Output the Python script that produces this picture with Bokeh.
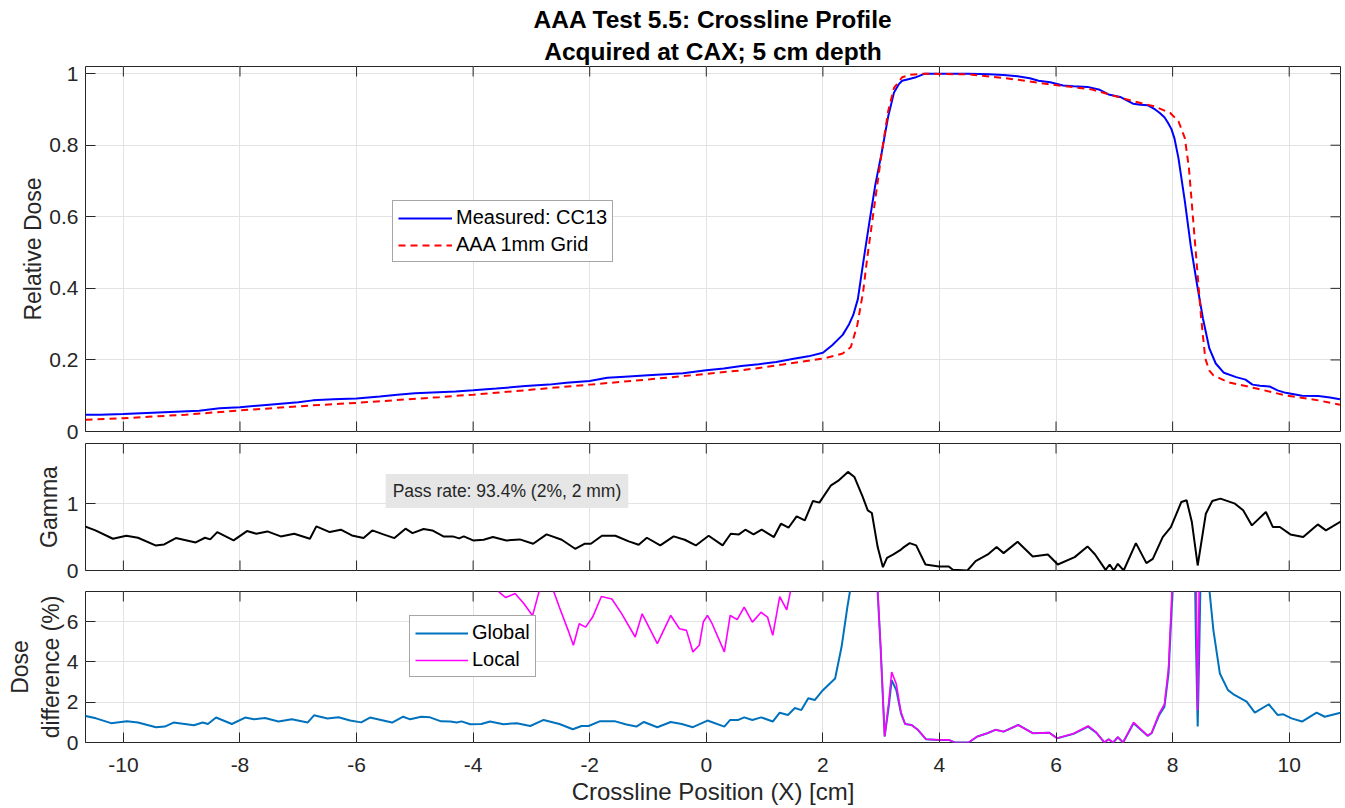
import math
from bokeh.plotting import figure
from bokeh.models import Range1d, FixedTicker, Legend, LegendItem, Label, Title, Grid
from bokeh.layouts import column
from bokeh.embed import file_html
from bokeh.resources import INLINE

# ---------------- data ----------------
meas_x = [-10.65, -10.4, -10.0, -9.6, -9.3, -9.0, -8.7, -8.35, -8.0, -7.5, -7.0, -6.75, -6.4, -6.0,
          -5.6, -5.3, -5.0, -4.6, -4.3, -4.0, -3.6, -3.1, -2.7, -2.4, -2.0, -1.7, -1.4, -1.0, -0.7,
          -0.4, 0.0, 0.3, 0.6, 0.9, 1.2, 1.5, 1.75, 2.0, 2.16, 2.34, 2.45, 2.52, 2.6, 2.69, 2.8, 2.9,
          3.01, 3.12, 3.22, 3.3, 3.36, 3.5, 3.58, 3.75, 4.0, 4.5, 4.85, 5.1, 5.34, 5.55, 5.7, 5.9,
          6.12, 6.3, 6.54, 6.75, 6.9, 7.1, 7.32, 7.45, 7.57, 7.7, 7.78, 7.86, 7.92, 7.98, 8.03, 8.1,
          8.21, 8.31, 8.42, 8.52, 8.63, 8.74, 8.88, 9.09, 9.25, 9.37, 9.5, 9.66, 9.8, 9.94, 10.22,
          10.5, 10.7, 10.87]
meas_y = [0.047, 0.047, 0.049, 0.052, 0.054, 0.056, 0.058, 0.065, 0.068, 0.075, 0.082, 0.087, 0.09,
          0.092, 0.098, 0.103, 0.107, 0.11, 0.112, 0.115, 0.12, 0.127, 0.131, 0.136, 0.141, 0.15,
          0.153, 0.157, 0.16, 0.163, 0.171, 0.176, 0.183, 0.188, 0.194, 0.203, 0.21, 0.22, 0.241,
          0.27, 0.3, 0.325, 0.37, 0.47, 0.587, 0.69, 0.78, 0.88, 0.947, 0.97, 0.98, 0.986, 0.989,
          1.0, 1.0, 1.0, 0.998, 0.996, 0.993, 0.987, 0.98, 0.976, 0.967, 0.965, 0.963, 0.955, 0.942,
          0.935, 0.916, 0.913, 0.912, 0.9, 0.89, 0.878, 0.863, 0.845, 0.82, 0.764, 0.643, 0.52,
          0.41, 0.316, 0.232, 0.19, 0.164, 0.152, 0.145, 0.131, 0.128, 0.126, 0.115, 0.108, 0.1,
          0.099, 0.095, 0.09]

calc_x = [-10.65, -10.0, -8.93, -8.0, -6.75, -6.0, -4.58, -4.0, -3.13, -2.0, -0.96, 0.0, 0.61, 1.31,
          2.02, 2.34, 2.48, 2.59, 2.69, 2.76, 2.87, 3.01, 3.12, 3.22, 3.36, 3.5, 3.72, 4.49, 5.2, 5.9,
          6.61, 7.32, 7.68, 7.96, 8.1, 8.21, 8.28, 8.35, 8.42, 8.49, 8.56, 8.63, 8.7, 8.95, 9.44,
          9.94, 10.5, 10.87]
calc_y = [0.033, 0.037, 0.047, 0.059, 0.073, 0.08, 0.096, 0.103, 0.115, 0.131, 0.146, 0.161, 0.171,
          0.187, 0.204, 0.218, 0.236, 0.297, 0.39, 0.484, 0.615, 0.78, 0.895, 0.96, 0.99, 0.997, 1.0,
          0.998, 0.986, 0.97, 0.956, 0.923, 0.909, 0.89, 0.867, 0.82, 0.736, 0.596, 0.456, 0.316,
          0.204, 0.17, 0.157, 0.138, 0.12, 0.101, 0.087, 0.075]

gamma_x = [-10.66, -10.48, -10.18, -9.95, -9.75, -9.45, -9.3, -9.1, -8.76, -8.6, -8.51, -8.39, -8.11,
           -7.88, -7.72, -7.53, -7.3, -7.07, -6.8, -6.69, -6.46, -6.27, -6.08, -5.88, -5.73, -5.54,
           -5.35, -5.16, -5.04, -4.85, -4.7, -4.51, -4.35, -4.24, -4.16, -4.0, -3.82, -3.66, -3.43,
           -3.2, -2.97, -2.74, -2.48, -2.25, -2.09, -1.98, -1.79, -1.56, -1.33, -1.16, -1.02, -0.79,
           -0.56, -0.37, -0.18,
           0.04, 0.28, 0.42, 0.56, 0.67, 0.81, 0.95, 1.16, 1.28, 1.41, 1.55, 1.69, 1.83, 1.94, 2.14,
           2.26, 2.43, 2.54, 2.68, 2.77, 2.84, 2.94, 3.03, 3.1, 3.21, 3.32, 3.39, 3.49, 3.6, 3.76,
           3.99, 4.16, 4.23, 4.48, 4.62, 4.83, 4.98, 5.1, 5.34, 5.6, 5.86, 6.03, 6.32, 6.54, 6.67,
           6.85, 6.92, 6.99, 7.06, 7.16, 7.37, 7.55, 7.66, 7.83, 7.97, 8.15, 8.24, 8.33, 8.43, 8.57,
           8.68, 8.82, 9.07, 9.21, 9.36, 9.6, 9.72, 9.84, 10.02, 10.24, 10.49, 10.63, 10.9]
gamma_y = [0.66, 0.6, 0.475, 0.52, 0.49, 0.375, 0.39, 0.485, 0.42, 0.49, 0.465, 0.575, 0.45, 0.59,
           0.55, 0.585, 0.51, 0.55, 0.475, 0.66, 0.575, 0.61, 0.525, 0.485, 0.6, 0.54, 0.485, 0.625,
           0.56, 0.62, 0.6, 0.51, 0.51, 0.48, 0.51, 0.45, 0.46, 0.5, 0.45, 0.465, 0.4, 0.54, 0.46,
           0.325, 0.4, 0.4, 0.52, 0.52, 0.435, 0.385, 0.49, 0.375, 0.51, 0.46, 0.375,
           0.52, 0.375, 0.55, 0.54, 0.61, 0.54, 0.61, 0.5, 0.7, 0.64, 0.81, 0.75, 1.04, 1.015, 1.275,
           1.34, 1.475, 1.4, 1.11, 0.9, 0.86, 0.35, 0.05, 0.19, 0.24, 0.3, 0.35, 0.41, 0.375, 0.09,
           0.06, 0.06, 0.01, 0.0, 0.14, 0.24, 0.35, 0.26, 0.43, 0.21, 0.24, 0.09, 0.2, 0.36, 0.24,
           0.01, 0.09, 0.0, 0.1, 0.0, 0.41, 0.11, 0.175, 0.5, 0.65, 1.025, 1.05, 0.725, 0.075, 0.85,
           1.04, 1.075, 1.0, 0.9, 0.675, 0.875, 0.65, 0.65, 0.54, 0.5, 0.69, 0.6, 0.74]

global_x = [-10.67, -10.47, -10.21, -9.94, -9.75, -9.44, -9.29, -9.14, -8.79, -8.64, -8.55, -8.41,
            -8.14, -7.91, -7.76, -7.57, -7.34, -7.11, -6.84, -6.73, -6.5, -6.31, -6.11, -5.92, -5.77,
            -5.58, -5.39, -5.2, -5.08, -4.89, -4.74, -4.55, -4.39, -4.28, -4.2, -4.05, -3.86, -3.71,
            -3.48, -3.25, -3.02, -2.79, -2.52, -2.29, -2.14, -2.02, -1.83, -1.56, -1.37, -1.2, -1.07,
            -0.84, -0.61, -0.42, -0.23,
            0.02, 0.31, 0.41, 0.55, 0.65, 0.79, 0.94, 1.14, 1.26, 1.4, 1.52, 1.63, 1.75, 1.86, 2.0,
            2.21, 2.32, 2.42, 2.47, 2.55, 2.7, 2.85, 2.94, 2.99, 3.06, 3.13, 3.18, 3.26, 3.34, 3.41,
            3.52, 3.63, 3.77, 3.98, 4.16, 4.26, 4.5, 4.65, 4.82, 4.96, 5.1, 5.35, 5.6, 5.88, 6.02,
            6.3, 6.55, 6.69, 6.83, 6.9, 6.98, 7.06, 7.15, 7.33, 7.57, 7.64, 7.77, 7.86, 7.93, 8.0,
            8.05, 8.2, 8.35, 8.4, 8.43, 8.46, 8.52, 8.6, 8.63, 8.7, 8.81, 8.95, 9.06, 9.27, 9.41,
            9.65, 9.8, 9.9, 10.04, 10.22, 10.47, 10.61, 10.88]
global_y = [1.33, 1.2, 0.96, 1.05, 0.99, 0.76, 0.79, 0.99, 0.86, 0.99, 0.92, 1.24, 0.92, 1.24, 1.15,
            1.22, 1.04, 1.15, 0.99, 1.35, 1.19, 1.25, 1.09, 1.0, 1.24, 1.12, 0.99, 1.28, 1.15, 1.28,
            1.25, 1.05, 1.04, 0.99, 1.05, 0.91, 0.92, 1.04, 0.91, 0.96, 0.82, 1.12, 0.92, 0.66, 0.82,
            0.82, 1.05, 1.05, 0.89, 0.79, 1.02, 0.76, 1.02, 0.92, 0.76,
            1.09, 0.79, 1.12, 1.12, 1.25, 1.12, 1.25, 1.04, 1.48, 1.37, 1.71, 1.61, 2.2, 2.11, 2.6,
            3.18, 4.74, 6.72, 7.6, 10, 15, 10, 7.46, 4.74, 0.3, 1.78, 3.1, 2.6, 1.45, 0.92, 0.87,
            0.63, 0.16, 0.13, 0.13, 0.0, 0.0, 0.3, 0.46, 0.63, 0.54, 0.87, 0.46, 0.49, 0.21, 0.43,
            0.79, 0.49, 0.0, 0.16, 0.0, 0.26, 0.0, 0.96, 0.33, 0.46, 1.37, 1.78, 3.43, 7.6, 12, 18,
            15, 5, 0.79, 5, 15, 10, 7.6, 5.57, 3.43, 2.6, 2.36, 2.03, 1.48, 1.9, 1.37, 1.4, 1.2, 1.04,
            1.48, 1.28, 1.48]

local_x = [-10.65, -8.0, -6.0, -4.0, -3.7, -3.55, -3.44, -3.28, -3.13, -2.98, -2.86, -2.75, -2.63,
           -2.52, -2.37, -2.28, -2.18, -2.07, -1.95, -1.8, -1.62, -1.45, -1.22, -1.1, -0.84, -0.61,
           -0.46, -0.34, -0.23, -0.12, -0.05, 0.02, 0.1, 0.31, 0.41, 0.53, 0.65, 0.79, 0.94, 1.05,
           1.14, 1.26, 1.38, 1.45, 1.6, 2.0, 2.5, 2.85, 2.94, 2.99, 3.06, 3.13, 3.18, 3.26, 3.34, 3.41,
           3.52, 3.63, 3.77, 3.98, 4.16, 4.26, 4.5, 4.65, 4.82, 4.96, 5.1, 5.35, 5.6, 5.88, 6.02, 6.3,
           6.55, 6.69, 6.83, 6.9, 6.98, 7.06, 7.15, 7.33, 7.57, 7.64, 7.77, 7.86, 7.93, 7.99, 8.1,
           8.3, 8.4, 8.43, 8.46, 8.55, 9.0, 10.0, 10.88]
local_y = [28, 17, 13, 9, 8.0, 7.46, 7.2, 7.4, 6.9, 6.3, 7.6, 8.2, 7.6, 6.72, 5.57, 4.83, 5.9, 5.73,
           6.23, 7.25, 7.13, 6.39, 5.24, 6.39, 4.91, 6.31, 5.65, 5.57, 4.5, 4.83, 6.0, 6.31, 5.9, 4.5,
           6.31, 6.1, 6.72, 5.98, 6.47, 6.23, 5.32, 7.25, 6.59, 7.6, 9, 12, 25, 20, 7.6, 4.8, 0.3,
           2.0, 3.5, 2.9, 1.5, 0.92, 0.87, 0.63, 0.16, 0.13, 0.13, 0.0, 0.0, 0.3, 0.46, 0.63, 0.54,
           0.87, 0.46, 0.49, 0.21, 0.45, 0.82, 0.5, 0.0, 0.16, 0.0, 0.27, 0.0, 1.0, 0.34, 0.48, 1.45,
           1.9, 3.7, 7.6, 15, 20, 9, 1.6, 9, 25, 20, 15, 14]

x_ticks = [-10, -8, -6, -4, -2, 0, 2, 4, 6, 8, 10]
x_tick_labels = ["-10", "-8", "-6", "-4", "-2", "0", "2", "4", "6", "8", "10"]
dose_ticks = [0, 0.2, 0.4, 0.6, 0.8, 1]
dose_tick_labels = ["0", "0.2", "0.4", "0.6", "0.8", "1"]
gamma_ticks = [0, 1]
gamma_tick_labels = ["0", "1"]
diff_ticks = [0, 2, 4, 6]
diff_tick_labels = ["0", "2", "4", "6"]

title_lines = ["AAA Test 5.5: Crossline Profile", "Acquired at CAX; 5 cm depth"]
pass_text = "Pass rate: 93.4% (2%, 2 mm)"

# ---------------- styling ----------------
FONT = "Liberation Sans"
AX = "#262626"
GRID = "#E3E3E3"
X_RANGE = (-10.65, 10.88)
TICK_FS = "21px"
LABEL_FS = "23px"
TICK_LEN = 10


def style_axis(ax, ticks, labels):
    ax.ticker = FixedTicker(ticks=ticks)
    ax.major_label_overrides = {t: l for t, l in zip(ticks, labels)}
    ax.major_tick_in = TICK_LEN
    ax.major_tick_out = 0
    ax.minor_tick_in = 0
    ax.minor_tick_out = 0
    ax.major_tick_line_color = AX
    ax.major_tick_line_width = 1
    ax.axis_line_color = None
    ax.major_label_text_font = FONT
    ax.major_label_text_color = AX
    ax.major_label_text_font_size = TICK_FS
    ax.major_label_standoff = 7
    ax.axis_label_text_font = FONT
    ax.axis_label_text_font_size = LABEL_FS
    ax.axis_label_text_font_style = "normal"
    ax.axis_label_text_color = AX


def make_fig(top, frame_h, bottom, yr, yticks, ylabels, ylabel, show_x, ylabel_standoff):
    p = figure(frame_width=1255, frame_height=frame_h, min_border_left=85, min_border_right=5,
               min_border_top=top, min_border_bottom=bottom,
               x_range=Range1d(*X_RANGE), y_range=Range1d(*yr),
               x_axis_location="below" if show_x else None, y_axis_location="left",
               output_backend="svg", toolbar_location=None, title=None)
    p.background_fill_color = "white"
    p.border_fill_color = "white"
    p.outline_line_color = AX
    p.outline_line_width = 1
    p.outline_line_alpha = 1
    if show_x:
        style_axis(p.xaxis[0], x_ticks, x_tick_labels)
    style_axis(p.yaxis[0], yticks, ylabels)
    p.yaxis[0].axis_label = ylabel
    p.yaxis[0].axis_label_standoff = ylabel_standoff
    # grids
    if len(p.xgrid) == 0:
        p.add_layout(Grid(dimension=0), "center")
    if len(p.ygrid) == 0:
        p.add_layout(Grid(dimension=1), "center")
    for g in p.xgrid:
        g.ticker = FixedTicker(ticks=x_ticks)
        g.grid_line_color = GRID
    for g in p.ygrid:
        g.ticker = FixedTicker(ticks=yticks)
        g.grid_line_color = GRID
    # inward tick marks on the mirrored edges (box on)
    nx, ny = len(x_ticks), len(yticks)
    p.ray(x=x_ticks, y=[yr[1]] * nx, length=TICK_LEN, length_units="screen",
          angle=-math.pi / 2, line_color=AX, line_width=1)
    if not show_x:
        p.ray(x=x_ticks, y=[yr[0]] * nx, length=TICK_LEN, length_units="screen",
              angle=math.pi / 2, line_color=AX, line_width=1)
    p.ray(x=[X_RANGE[1]] * ny, y=yticks, length=TICK_LEN, length_units="screen",
          angle=math.pi, line_color=AX, line_width=1)
    return p


# ---- top: profiles ----
p1 = make_fig(66, 365, 11, (0, 1.02), dose_ticks, dose_tick_labels, "Relative Dose", False, 0)
t2 = Title(text=title_lines[1], align="center", text_font=FONT, text_font_size="24.5px",
           text_font_style="bold", text_color="black", standoff=3)
t1 = Title(text=title_lines[0], align="center", text_font=FONT, text_font_size="24.5px",
           text_font_style="bold", text_color="black", standoff=3)
p1.add_layout(t2, "above")
p1.add_layout(t1, "above")

r_meas = p1.line(meas_x, meas_y, line_color="#0000FF", line_width=2)
r_calc = p1.line(calc_x, calc_y, line_color="#FF0000", line_width=2, line_dash="7 5")
leg1 = Legend(items=[LegendItem(label="Measured: CC13", renderers=[r_meas]),
                     LegendItem(label="AAA 1mm Grid", renderers=[r_calc])],
              location=(307, 169), orientation="vertical",
              label_text_font=FONT, label_text_font_size="20px", label_text_color="black",
              glyph_width=54, glyph_height=22, label_height=22, label_standoff=4, spacing=4,
              padding=5, margin=0, border_line_color="#4D4D4D", border_line_width=1,
              background_fill_color="white", background_fill_alpha=1)
p1.add_layout(leg1, "center")

# ---- middle: gamma ----
p2 = make_fig(1, 127, 12, (0, 1.9), gamma_ticks, gamma_tick_labels, "Gamma", False, 2)
p2.line(gamma_x, gamma_y, line_color="black", line_width=2)
p2.add_layout(Label(x=-5.5, y=1.19, text=pass_text, text_font=FONT, text_font_size="17.5px",
                    text_color=AX, text_align="left", text_baseline="middle",
                    background_fill_color="#E6E6E6", background_fill_alpha=1, padding=7))

# ---- bottom: dose difference ----
p3 = make_fig(9, 151, 66, (0, 7.5), diff_ticks, diff_tick_labels, "Dose\ndifference (%)", True, 0)
xa = p3.xaxis[0]
xa.major_label_standoff = 15
xa.axis_label = "Crossline Position (X) [cm]"
xa.axis_label_text_font_size = "24px"
xa.axis_label_standoff = 3
r_glob = p3.line(global_x, global_y, line_color="#0072BD", line_width=2)
r_loc = p3.line(local_x, local_y, line_color="#FF00FF", line_width=1.6)
leg3 = Legend(items=[LegendItem(label="Global", renderers=[r_glob]),
                     LegendItem(label="Local", renderers=[r_loc])],
              location=(324, 65), orientation="vertical",
              label_text_font=FONT, label_text_font_size="20px", label_text_color="black",
              glyph_width=53, glyph_height=22, label_height=22, label_standoff=4, spacing=4,
              padding=5, margin=0, border_line_color="#4D4D4D", border_line_width=1,
              background_fill_color="white", background_fill_alpha=1)
p3.add_layout(leg3, "center")

layout = column(p1, p2, p3, spacing=0)
open("out.html", "w").write(file_html(layout, INLINE))
